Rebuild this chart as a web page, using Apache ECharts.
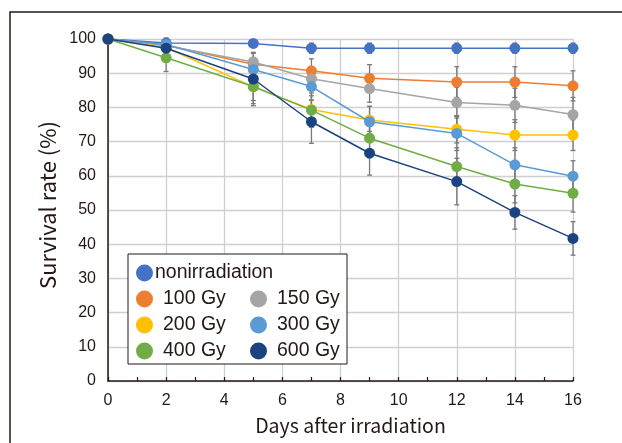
<!DOCTYPE html>
<html><head><meta charset="utf-8">
<script src="https://cdn.jsdelivr.net/npm/echarts@6/dist/echarts.min.js"></script>
<style>html,body{margin:0;padding:0;background:#fff}#c{width:622px;height:443px}</style>
</head><body><div id="c"></div>
<script>
const days = [0, 2, 5, 7, 9, 12, 14, 16];
const seriesNames = ['nonirradiation', '100 Gy', '150 Gy', '200 Gy', '300 Gy', '400 Gy', '600 Gy'];
const nonirradiation = [100, 98.8, 98.7, 97.3, 97.3, 97.3, 97.3, 97.3];
const gy100 = [100, 98.2, 92.6, 90.7, 88.5, 87.4, 87.4, 86.3];
const gy150 = [100, 98.0, 93.3, 88.4, 85.5, 81.4, 80.6, 77.9];
const gy200 = [100, 97.5, 86.0, 79.4, 76.3, 73.6, 71.9, 71.9];
const gy300 = [100, 98.4, 91.1, 86.1, 75.8, 72.4, 63.2, 59.9];
const gy400 = [100, 94.5, 86.1, 79.2, 71.0, 62.7, 57.6, 54.9];
const gy600 = [100, 97.3, 88.3, 75.8, 66.6, 58.3, 49.3, 41.7];
const errNon = [0, 0.5, 1, 1.5, 1.5, 1.5, 1.5, 1.5];
const err100 = [0, 1, 2, 3.5, 4, 4.5, 4.5, 4.4];
const err150 = [0, 1.5, 2.5, 3.5, 4, 4.5, 5, 5];
const err200 = [0, 2, 4, 4, 4, 4, 4.5, 4.5];
const err300 = [0, 1.5, 3, 4, 4.5, 5, 5, 4.5];
const err400 = [0, 4, 5, 5, 5, 5.5, 5.5, 5.5];
const err600 = [0, 3, 7.8, 6.3, 6.4, 6.8, 4.9, 4.9];
const colors = ['#4472C4', '#ED7D31', '#A5A5A5', '#FFC000', '#5B9BD5', '#70AD47', '#1A437F'];

const values = [nonirradiation, gy100, gy150, gy200, gy300, gy400, gy600];
const errors = [errNon, err100, err150, err200, err300, err400, err600];

const errData = [];
values.forEach((v, s) => v.forEach((y, i) => {
  if (errors[s][i] > 0) errData.push([days[i], y - errors[s][i], y + errors[s][i]]);
}));

const font = '"Noto Sans CJK JP", "Noto Sans", sans-serif';
const numFont = '"Liberation Sans", Arial, sans-serif';
const series = [{
  type: 'custom',
  name: 'err',
  z: 1,
  silent: true,
  data: errData,
  renderItem: function (params, api) {
    const x = api.value(0);
    const lo = api.coord([x, api.value(1)]);
    const hi = api.coord([x, api.value(2)]);
    const w = 2.5;
    const st = { stroke: '#7a7a7a', lineWidth: 1.3 };
    return {
      type: 'group',
      children: [
        { type: 'line', shape: { x1: lo[0], y1: lo[1], x2: hi[0], y2: hi[1] }, style: st },
        { type: 'line', shape: { x1: lo[0] - w, y1: lo[1], x2: lo[0] + w, y2: lo[1] }, style: st },
        { type: 'line', shape: { x1: hi[0] - w, y1: hi[1], x2: hi[0] + w, y2: hi[1] }, style: st }
      ]
    };
  }
}];
seriesNames.forEach((n, s) => {
  series.push({
    type: 'line',
    name: n,
    z: 2 + s,
    data: days.map((d, i) => [d, values[s][i]]),
    symbol: 'circle',
    symbolSize: 11,
    color: colors[s],
    lineStyle: { width: 1.5, color: colors[s] },
    itemStyle: { color: colors[s] }
  });
});

const legendPos = [
  ['nonirradiation', 136, 263],
  ['100 Gy', 136, 289], ['150 Gy', 250, 289],
  ['200 Gy', 136, 315], ['300 Gy', 250, 315],
  ['400 Gy', 136, 341], ['600 Gy', 250, 341]
];
const legends = legendPos.map(p => ({
  data: [p[0]],
  left: p[1], top: p[2],
  padding: 0,
  icon: 'circle',
  itemWidth: 17, itemHeight: 17,
  itemGap: 0,
  z: 101,
  textStyle: { fontSize: 19.5, color: '#231815', fontFamily: numFont, padding: [0, 0, 0, p[0] === 'nonirradiation' ? -3 : 5] }
}));

const chart = echarts.init(document.getElementById('c'));
chart.setOption({
  animation: false,
  backgroundColor: '#fff',
  graphic: [
    { type: 'rect', z: 0, shape: { x: 10, y: 12, width: 700, height: 500 }, style: { fill: 'none', stroke: '#231815', lineWidth: 1.5 } },
    { type: 'rect', z: 100, shape: { x: 128, y: 254, width: 219, height: 110 }, style: { fill: '#fff', stroke: '#231815', lineWidth: 1 } }
  ],
  legend: legends,
  grid: { left: 108, right: 49, top: 39, bottom: 62 },
  xAxis: {
    type: 'value', min: 0, max: 16, interval: 2,
    name: 'Days after irradiation', nameLocation: 'middle', nameGap: 35,
    nameTextStyle: { fontSize: 19.5, color: '#231815', fontFamily: font, padding: [0, 0, 0, 20] },
    axisLine: { lineStyle: { color: '#231815', width: 1.5 } },
    axisTick: { show: true, inside: true, length: 4, lineStyle: { color: '#231815', width: 1.2 } },
    minorTick: { show: true, splitNumber: 2, length: 4, lineStyle: { color: '#231815', width: 1.2 } },
    axisLabel: { fontSize: 16, color: '#231815', fontFamily: numFont, margin: 12 },
    splitLine: { show: true, lineStyle: { color: '#cfcfcf', width: 1.3 } }
  },
  yAxis: {
    type: 'value', min: 0, max: 100, interval: 10,
    name: 'Survival rate (%)', nameLocation: 'middle', nameGap: 36, nameRotate: 90,
    nameTextStyle: { fontSize: 22, color: '#231815', fontFamily: font, padding: [0, 0, 0, 10] },
    axisLine: { show: true, lineStyle: { color: '#231815', width: 1.5 } },
    axisTick: { show: false },
    axisLabel: { fontSize: 16, color: '#231815', fontFamily: numFont, margin: 12 },
    splitLine: { show: true, lineStyle: { color: '#cfcfcf', width: 1.3 } }
  },
  series: series
});
</script></body></html>
